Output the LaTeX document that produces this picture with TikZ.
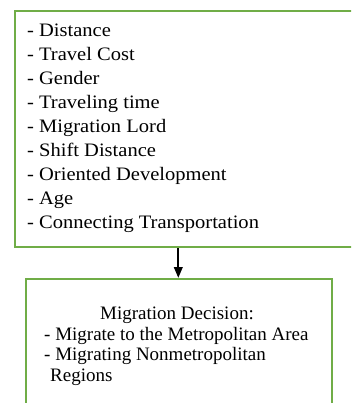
\documentclass[tikz,border=0pt]{standalone}
\usepackage{fontspec}
\setmainfont{Liberation Serif}
\usetikzlibrary{arrows.meta}
\definecolor{boxgreen}{RGB}{112,173,71}
\tikzset{
  gbox/.style={draw=boxgreen, line width=2pt, inner sep=0pt, anchor=north west},
  listtext/.style={inner sep=0pt, font=\fontsize{19}{24}\selectfont},
  bottext/.style={inner sep=0pt, font=\fontsize{19}{21}\selectfont},
  flow/.style={line width=2.2pt, -{Triangle[length=11pt,width=8.5pt]}}
}
\begin{document}
\begin{tikzpicture}[x=1pt,y=-1pt]
\useasboundingbox (0,0) rectangle (351,403);
\clip (0,0) rectangle (351,403);
\node[gbox, minimum width=338pt, minimum height=236pt] (top) at (14,10) {};
\node[gbox, minimum width=306pt, minimum height=140pt] (bot) at (25,278) {};
\node[listtext, anchor=base west] (list) at (27,36.7) {\scalebox{1.08}[1]{\begin{tabular}[t]{@{}l@{}}- Distance\\- Travel Cost\\- Gender\\- Traveling time\\- Migration Lord\\- Shift Distance\\- Oriented Development\\- Age\\- Connecting Transportation\end{tabular}}};
\node[bottext, anchor=base] (title) at (177,319) {Migration Decision:};
\node[bottext, anchor=base west] (opt1) at (44,340) {- Migrate to the Metropolitan Area};
\node[bottext, anchor=base west] (opt2) at (44,360.7) {- Migrating Nonmetropolitan};
\node[bottext, anchor=base west] (opt3) at (50,381.7) {Regions};
\draw[flow] ([xshift=-0.7pt]bot.north |- top.south) -- ([xshift=-0.7pt]bot.north);
\end{tikzpicture}
\end{document}
